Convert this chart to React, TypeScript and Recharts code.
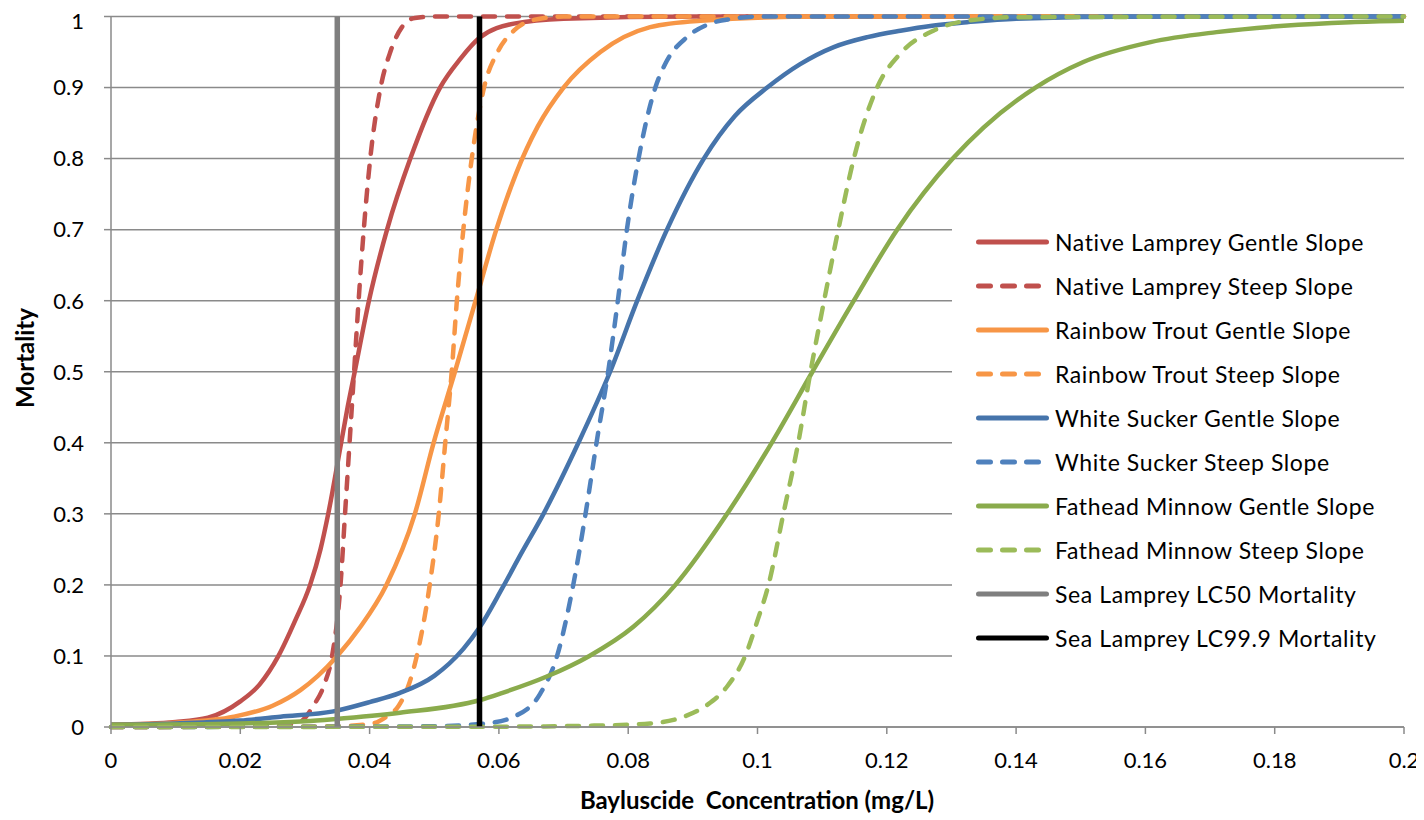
import { LineChart, Line, XAxis, YAxis, CartesianGrid, Legend } from 'recharts'

const FONT = 'Lato, "Open Sans", sans-serif'

// x = Bayluscide concentration (mg/L), y = mortality (0-1)
const nativeLampreyGentle = [
  [0, 0.003], [0.01, 0.007], [0.015, 0.013], [0.02, 0.036], [0.023, 0.06], [0.0259, 0.1],
  [0.0285, 0.15], [0.0308, 0.2], [0.0324, 0.25], [0.0336, 0.3], [0.0356, 0.4], [0.0366, 0.45],
  [0.0377, 0.5], [0.0399, 0.6], [0.0427, 0.7], [0.0463, 0.8], [0.0509, 0.9], [0.054, 0.94],
  [0.057, 0.97], [0.0623, 0.99], [0.07, 0.997], [0.09, 1], [0.2, 1],
]
const nativeLampreySteep = [
  [0, 0], [0.025, 0.001], [0.029, 0.006], [0.0313, 0.03], [0.033, 0.06], [0.0342, 0.1],
  [0.0355, 0.2], [0.0362, 0.3], [0.0369, 0.4], [0.0376, 0.5], [0.0383, 0.6], [0.0391, 0.7],
  [0.0401, 0.8], [0.0417, 0.9], [0.0432, 0.95], [0.045, 0.985], [0.047, 0.998], [0.05, 1], [0.2, 1],
]
const rainbowTroutGentle = [
  [0, 0.003], [0.01, 0.006], [0.019, 0.0145], [0.025, 0.03], [0.0293, 0.052], [0.032, 0.072],
  [0.035, 0.1], [0.0385, 0.14], [0.0426, 0.2], [0.047, 0.3], [0.0499, 0.4], [0.0532, 0.5],
  [0.0564, 0.6], [0.0596, 0.7], [0.0627, 0.78], [0.066, 0.845], [0.07, 0.9], [0.0757, 0.95],
  [0.0834, 0.985], [0.0912, 0.994], [0.11, 1], [0.2, 1],
]
const rainbowTroutSteep = [
  [0, 0], [0.035, 0.001], [0.0405, 0.005], [0.0425, 0.014], [0.0445, 0.03], [0.046, 0.058],
  [0.0473, 0.1], [0.0493, 0.2], [0.0507, 0.3], [0.0517, 0.4], [0.0527, 0.5], [0.0535, 0.6],
  [0.0545, 0.7], [0.0558, 0.8], [0.0577, 0.9], [0.0598, 0.95], [0.0623, 0.98], [0.0653, 0.995],
  [0.07, 1], [0.2, 1],
]
const whiteSuckerGentle = [
  [0, 0.003], [0.01, 0.005], [0.02, 0.009], [0.0262, 0.0145], [0.0344, 0.022], [0.04, 0.035],
  [0.0447, 0.048], [0.05, 0.072], [0.0545, 0.11], [0.057, 0.14], [0.0605, 0.195], [0.0635, 0.245],
  [0.0669, 0.3], [0.0723, 0.4], [0.0772, 0.5], [0.0814, 0.6], [0.086, 0.7], [0.0917, 0.8],
  [0.0965, 0.86], [0.1015, 0.9], [0.1066, 0.933], [0.1118, 0.957], [0.117, 0.971], [0.1221, 0.98],
  [0.127, 0.987], [0.1324, 0.992], [0.14, 0.997], [0.16, 1], [0.2, 1],
]
const whiteSuckerSteep = [
  [0, 0], [0.05, 0.001], [0.058, 0.005], [0.0623, 0.0145], [0.0664, 0.047], [0.069, 0.1],
  [0.0715, 0.2], [0.0734, 0.3], [0.0751, 0.4], [0.0769, 0.5], [0.0784, 0.6], [0.0798, 0.7],
  [0.0816, 0.8], [0.0842, 0.9], [0.086, 0.938], [0.0891, 0.971], [0.0927, 0.99],
  [0.0963, 0.997], [0.1, 1], [0.2, 1],
]
const fatheadMinnowGentle = [
  [0, 0.003], [0.02, 0.005], [0.03, 0.008], [0.0344, 0.011], [0.0447, 0.02], [0.0571, 0.038],
  [0.0602, 0.047], [0.0674, 0.071], [0.074, 0.1], [0.0808, 0.141], [0.0873, 0.2], [0.0953, 0.3],
  [0.1022, 0.4], [0.1085, 0.5], [0.1149, 0.6], [0.1216, 0.7], [0.1302, 0.8], [0.135, 0.844],
  [0.143, 0.9], [0.1504, 0.936], [0.1608, 0.964], [0.171, 0.978], [0.1814, 0.987],
  [0.1917, 0.992], [0.2, 0.994],
]
const fatheadMinnowSteep = [
  [0, 0], [0.06, 0.0005], [0.075, 0.002], [0.0834, 0.005], [0.0886, 0.0145], [0.0922, 0.031],
  [0.0953, 0.057], [0.0981, 0.1], [0.1, 0.15], [0.1017, 0.2], [0.104, 0.3], [0.1063, 0.4],
  [0.1082, 0.5], [0.1103, 0.6], [0.1125, 0.7], [0.1149, 0.8], [0.1185, 0.9], [0.1221, 0.948],
  [0.1272, 0.98], [0.1324, 0.994], [0.14, 0.999], [0.2, 1],
]
const seaLampreyLC50 = [[0.035, 0], [0.035, 1]]
const seaLampreyLC999 = [[0.057, 0], [0.057, 1]]

const xTicks = [0, 0.02, 0.04, 0.06, 0.08, 0.1, 0.12, 0.14, 0.16, 0.18, 0.2]
const yTicks = [0, 0.1, 0.2, 0.3, 0.4, 0.5, 0.6, 0.7, 0.8, 0.9, 1]

const toPoints = (rows: number[][]) => rows.map(([x, y]) => ({ x, y }))

const DASH = '12 12'
const series = [
  { name: 'Native Lamprey Gentle Slope', rows: nativeLampreyGentle, color: '#C0504D' },
  { name: 'Native Lamprey Steep Slope', rows: nativeLampreySteep, color: '#C0504D', dash: DASH },
  { name: 'Rainbow Trout Gentle Slope', rows: rainbowTroutGentle, color: '#F79646' },
  { name: 'Rainbow Trout Steep Slope', rows: rainbowTroutSteep, color: '#F79646', dash: DASH },
  { name: 'White Sucker Gentle Slope', rows: whiteSuckerGentle, color: '#4674AB' },
  { name: 'White Sucker Steep Slope', rows: whiteSuckerSteep, color: '#4F81BD', dash: DASH },
  { name: 'Fathead Minnow Gentle Slope', rows: fatheadMinnowGentle, color: '#8AAB4C' },
  { name: 'Fathead Minnow Steep Slope', rows: fatheadMinnowSteep, color: '#9BBB59', dash: DASH },
  { name: 'Sea Lamprey LC50 Mortality', rows: seaLampreyLC50, color: '#7F7F7F', vertical: true },
  { name: 'Sea Lamprey LC99.9 Mortality', rows: seaLampreyLC999, color: '#000000', vertical: true },
]

function LegendBox() {
  return (
    <div style={{ width: 452, height: 450, background: '#fff', fontFamily: FONT, fontSize: 23, color: '#000' }}>
      {series.map((s) => (
        <div key={s.name} style={{ height: 44, display: 'flex', alignItems: 'center', paddingLeft: 24 }}>
          <svg width={73} height={10} style={{ flex: 'none' }}>
            <line
              x1={2.5}
              y1={5}
              x2={70.5}
              y2={5}
              stroke={s.color}
              strokeWidth={5}
              strokeLinecap="round"
              strokeDasharray={s.dash}
            />
          </svg>
          <span style={{ marginLeft: 6, letterSpacing: 0.6, whiteSpace: 'nowrap' }}>{s.name}</span>
        </div>
      ))}
    </div>
  )
}

const tickStyle = { fill: '#000', fontSize: 22, fontFamily: FONT }

export default function App() {
  return (
    <LineChart width={1416} height={812} margin={{ top: 8.5, right: 20, left: 0, bottom: 0 }}>
      <CartesianGrid vertical={false} stroke="#8a8a8a" strokeWidth={1.5} />
      <XAxis
        type="number"
        dataKey="x"
        domain={[0, 0.2]}
        ticks={xTicks}
        tickFormatter={(v) => String(v)}
        tick={tickStyle}
        tickSize={7}
        tickMargin={18}
        height={93}
        stroke="#8a8a8a"
        strokeWidth={1.5}
        label={() => (
          <text
            x={749}
            y={801}
            textAnchor="middle"
            fontFamily={FONT}
            fontSize={24}
            fontWeight={700}
            fill="#000"
            style={{ whiteSpace: 'pre' }}
          >
            {'Bayluscide  Concentration (mg/L)'}
          </text>
        )}
      />
      <YAxis
        type="number"
        domain={[0, 1]}
        ticks={yTicks}
        tickFormatter={(v) => String(v)}
        tick={tickStyle}
        tickSize={7}
        tickMargin={20}
        width={103}
        stroke="#8a8a8a"
        strokeWidth={1.5}
        label={() => (
          <text
            x={16}
            y={350}
            transform="rotate(-90 16 350)"
            textAnchor="middle"
            dominantBaseline="central"
            fontFamily={FONT}
            fontSize={24}
            fontWeight={700}
            fill="#000"
          >
            Mortality
          </text>
        )}
      />
      <Legend
        layout="vertical"
        align="center"
        verticalAlign="middle"
        content={() => <LegendBox />}
        wrapperStyle={{ left: 944, top: 212, width: 452, height: 450 }}
      />
      {series.map((s) => (
        <Line
          key={s.name}
          name={s.name}
          data={toPoints(s.rows)}
          dataKey="y"
          type={s.vertical ? 'linear' : 'monotone'}
          stroke={s.color}
          strokeWidth={s.vertical ? 5.5 : 4.5}
          strokeDasharray={s.dash}
          strokeLinecap={s.dash ? 'round' : 'butt'}
          dot={false}
          activeDot={false}
          isAnimationActive={false}
        />
      ))}
    </LineChart>
  )
}
